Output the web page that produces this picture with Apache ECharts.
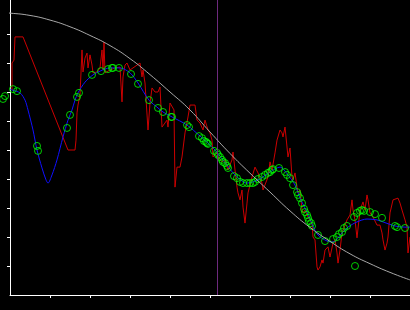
<!DOCTYPE html>
<html>
<head>
<meta charset="utf-8">
<script src="https://cdn.jsdelivr.net/npm/echarts@6/dist/echarts.min.js"></script>
<style>html,body{margin:0;padding:0;background:#000;}#c{width:410px;height:310px;}</style>
</head>
<body>
<div id="c"></div>
<script>
// Noisy measured signal (red)
const rawX = [0.5,0.5,1,1.25,3.25,14.5,16.25,16.5,16.75,17,17.5,18,18.25,18.75,19.25,19.5,20,20.5,20.75,21.75,22.5,23,23.25,23.5,23.75,25,26.25,27.5,28,28.25,28.75,29.25,30,30.75,32.5,33,33.25,33.75,34.5,35,35.5,36.25,37,37.5,38,39.25,39.5,40,40.5,41,41.25,41.75,42.5,43,43.75,44.5,45,46.25,46.75,47.5,48.25,48.75,49.25,49.5,50,50.5,50.75,51.75,52,53,53.75,54.5,55.5,55.75,56.25,56.75,57,57.5,58,58.25,58.75,59.25,59.5,60.5,61.25,62,63,63.25,64.5,65,65.5,66.25,66.75,67.5,68,68.25,68.75,69.25,69.5,70,70.5,70.75,71.25,71.75,72,72.5,73,73.25,73.75,74.5,75.5,75.75,76.25,76.75,77,77.5,78,78.25,78.75,79.5,80,80.75,81.25,81.75,82,82.5,83,84.25,85,85.5,85.75,86.25,86.75,87.5,88.25,88.75,89.25,89.5,90,90.75,91.75,92.5,93,93.25,93.75,94.25,94.5,95,95.75,96.25,97,97.5,98,98.75,99.25,99.5,100];
const rawY = [7.07,8.00,8.10,8.90,8.90,5.00,5.00,5.34,6.28,6.55,6.90,8.45,7.69,8.17,8.34,7.83,8.28,7.93,7.66,7.69,7.83,8.45,7.76,8.72,7.66,7.76,7.83,7.86,6.66,7.52,7.93,8.00,7.76,7.83,8.00,7.52,7.76,7.31,5.69,6.62,7.14,7.00,7.00,7.17,5.79,6.03,5.79,6.62,6.66,6.38,3.72,4.41,4.41,4.76,5.59,6.14,6.55,6.55,6.03,5.93,5.69,6.03,5.97,5.69,5.59,5.34,4.76,4.90,4.76,4.59,4.66,4.31,4.66,4.93,4.31,3.72,3.52,3.28,3.62,3.03,2.48,3.17,3.52,4.07,4.41,4.21,3.86,3.62,4.07,4.59,4.31,4.90,5.34,5.69,5.59,5.45,5.79,5.76,4.76,5.07,4.07,3.97,4.21,3.72,3.52,3.62,2.93,2.83,2.93,2.69,2.48,2.00,1.90,0.97,0.86,0.97,1.21,1.10,1.55,1.66,1.31,1.79,1.90,1.45,1.10,1.55,2.14,2.59,2.76,3.28,2.93,2.59,1.97,2.93,3.21,2.93,3.45,3.28,2.83,2.69,2.41,2.41,2.14,1.90,1.55,1.79,2.00,2.83,3.28,3.34,3.34,3.17,2.93,2.59,2.34,1.45,2.00];

// Smoothed curve (blue)
const smoothX = [0,0.5,2.5,3.75,4.5,5.75,6.75,8,9,9.5,10.5,11.75,13.25,14.5,15.5,16.25,17,18.75,20.75,22.5,25,27.5,30,32,34.75,37,38.25,40.5,44.25,47.5,49.5,51.25,54.25,56.25,59.25,62,65,67.5,69.5,71.25,72.5,74.25,75.75,77,79.25,80.75,83,84.5,86.75,89.25,91.75,93.25,96.25,98.75,100];
const smoothY = [7.10,7.07,6.97,6.72,6.38,5.69,5.00,4.38,3.97,3.86,4.14,4.66,5.45,6.03,6.38,6.72,6.97,7.34,7.59,7.72,7.83,7.83,7.66,7.31,6.72,6.45,6.31,6.14,5.86,5.48,5.24,5.00,4.48,4.14,3.86,3.97,4.24,4.41,4.14,3.79,3.34,2.86,2.38,2.07,1.86,1.83,2.14,2.34,2.52,2.62,2.59,2.52,2.38,2.34,2.34];

// Sample points (green circles)
const sampleX = [-1.75,-1.25,0.75,1.75,6.75,7,14.25,15,16.75,17.25,20.5,22.75,24.5,25.5,25.75,27.25,30.25,32,34.75,37,38.25,40.25,40.5,44.25,44.75,47.25,48,48.5,49,49.25,49.5,51,51.75,52,52.5,53,53.25,53.75,54.25,54.5,56,56.75,57.5,58.25,59.25,60,60.75,61.25,62,63,63.75,64.5,65,65.5,65.75,67.25,68.75,69.25,70,70.75,71.75,72,72.5,73,73.5,73.75,74.25,74.5,74.75,75.25,75.5,77,78.75,80.75,81.75,82.25,83,83.5,84.25,86,86.75,87.5,88,88.5,90,91.25,93,96.25,96.75,98.75,86.25];
const sampleY = [6.76,6.86,7.10,7.03,5.14,4.97,5.76,6.21,6.83,6.97,7.59,7.72,7.79,7.83,7.83,7.83,7.62,7.28,6.72,6.45,6.31,6.14,6.14,5.86,5.79,5.48,5.41,5.31,5.28,5.24,5.21,4.97,4.90,4.83,4.76,4.66,4.59,4.55,4.45,4.38,4.10,4.03,3.90,3.86,3.86,3.86,3.86,3.90,4.00,4.07,4.14,4.21,4.24,4.31,4.34,4.38,4.24,4.14,4.03,3.79,3.55,3.45,3.34,3.17,2.97,2.86,2.76,2.66,2.55,2.48,2.38,2.07,1.86,1.93,2.00,2.10,2.17,2.31,2.38,2.69,2.83,2.90,2.93,2.90,2.86,2.79,2.66,2.38,2.34,2.31,1.00];

// Reference curve (gray)
const refX = [-2.5,0,5,10,15,20,25,30,35,40,45,50,55,60,65,70,75,80,85,90,95,100];
const refY = [9.74,9.72,9.64,9.48,9.25,8.95,8.60,8.15,7.60,7.00,6.38,5.62,4.88,4.20,3.55,2.90,2.33,1.85,1.42,1.08,0.78,0.52];

// Cursor position
const cursorX = 51.75;

// Axis ticks
const xTicks = [10,20,30,40,50,60,70,80,90,100];
const yTicks = [1,2,3,4,5,6,7,8,9];

const zip = (xs, ys) => xs.map((x, i) => [x, ys[i]]);

const chart = echarts.init(document.getElementById('c'), null, {renderer: 'canvas'});
chart.setOption({
  backgroundColor: '#000',
  animation: false,
  grid: {left: 10, right: 0, top: 0, bottom: 15, containLabel: false},
  xAxis: {
    type: 'value', min: 0, max: 100,
    axisLine: {show: true, lineStyle: {color: '#fff', width: 1}},
    axisTick: {show: true, inside: false, length: 3, customValues: xTicks, lineStyle: {color: '#fff', width: 1}},
    axisLabel: {show: false},
    splitLine: {show: false}
  },
  yAxis: {
    type: 'value', min: 0, max: 295 / 29,
    axisLine: {show: true, lineStyle: {color: '#fff', width: 1}},
    axisTick: {show: true, inside: false, length: 3, customValues: yTicks, lineStyle: {color: '#fff', width: 1}},
    axisLabel: {show: false},
    splitLine: {show: false}
  },
  series: [
    {type: 'line', data: zip(rawX, rawY), symbol: 'none', lineStyle: {color: '#cc0000', width: 1}, z: 2},
    {type: 'line', data: zip(smoothX, smoothY), symbol: 'none', smooth: 0.3, lineStyle: {color: '#1010ff', width: 1}, z: 3},
    {type: 'scatter', data: zip(sampleX, sampleY), symbol: 'circle', symbolSize: 7, clip: false,
      itemStyle: {color: 'rgba(0,0,0,0)', borderColor: '#00ff00', borderWidth: 1}, z: 4},
    {type: 'line', data: zip(refX, refY), symbol: 'none', smooth: 0.5, clip: false, lineStyle: {color: '#a8a8a8', width: 1}, z: 5,
      markLine: {silent: true, symbol: 'none', label: {show: false},
        lineStyle: {color: '#6e2a7e', width: 1, type: 'solid'}, data: [{xAxis: cursorX}]}}
  ]
});
</script>
</body>
</html>
